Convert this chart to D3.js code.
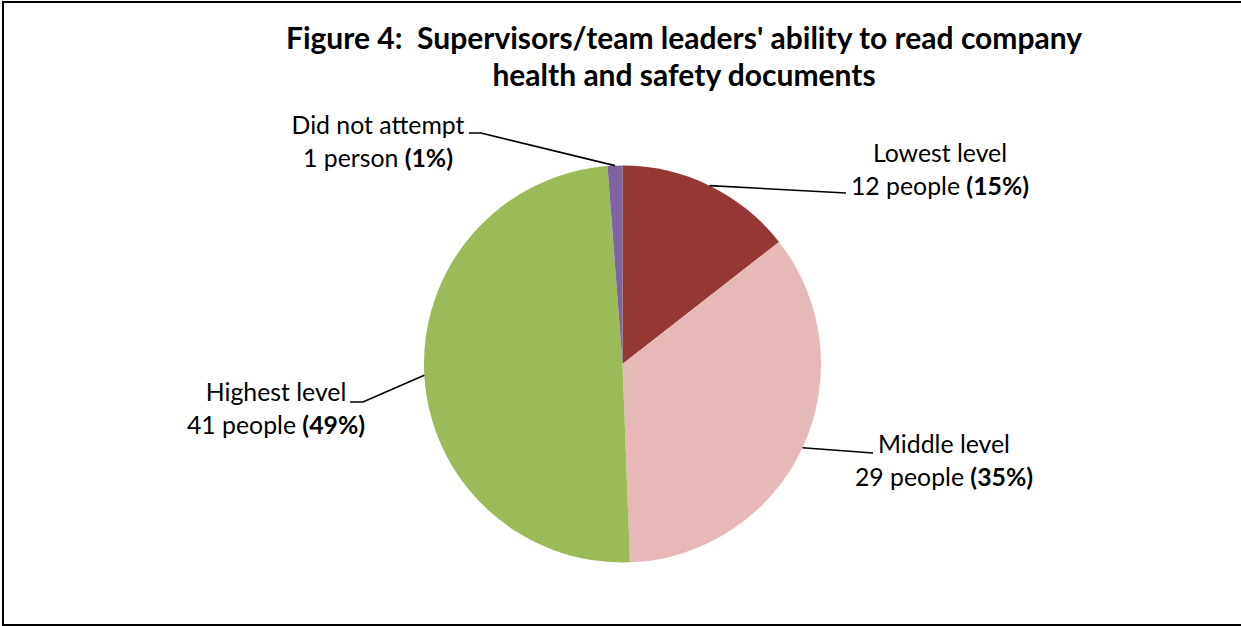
<!DOCTYPE html>
<html>
<head>
<meta charset="utf-8">
<script src="https://cdn.jsdelivr.net/npm/d3@7"></script>
<style>
  html, body { margin: 0; padding: 0; background: #fff; }
  svg { display: block; }
  text { font-family: Lato, "Open Sans", sans-serif; fill: #000; white-space: pre; }
</style>
</head>
<body>
<div id="chart"></div>
<script>
// Survey categories, clockwise from 12 o'clock
const categories = ["Lowest level", "Middle level", "Highest level", "Did not attempt"];
const counts = [12, 29, 41, 1];
const units = ["people", "people", "people", "person"];
const colors = ["#953735", "#E6B9B8", "#9BBB59", "#8064A2"];
const titleLines = [
  "Figure 4:  Supervisors/team leaders' ability to read company",
  "health and safety documents"
];

// Label block centres and the point where each leader line meets its label
const labelLayout = [
  { cx: 940, y: 162, lx: 846, ly: 193, elbow: null },
  { cx: 944, y: 453, lx: 873, ly: 453, elbow: null },
  { cx: 276, y: 401, lx: 350, ly: 402, elbow: 363 },
  { cx: 378, y: 134, lx: 469, ly: 133, elbow: 481 }
];

const W = 1241, H = 626;
const svg = d3.select("#chart").append("svg")
  .attr("width", W).attr("height", H);

// chart frame
svg.append("rect")
  .attr("x", 3).attr("y", 2)
  .attr("width", W + 10).attr("height", 623)
  .attr("fill", "none").attr("stroke", "#000").attr("stroke-width", 2);

// title
const title = svg.append("text")
  .attr("text-anchor", "middle")
  .attr("xml:space", "preserve")
  .style("font-weight", "bold")
  .style("font-size", "30px");
titleLines.forEach((t, i) => {
  title.append("tspan").attr("x", 684).attr("y", 49 + i * 37).text(t);
});

const cx = 622.5, cy = 364, r = 198.5;
const data = categories.map((c, i) => ({ name: c, value: counts[i], unit: units[i], color: colors[i], layout: labelLayout[i] }));

// whole-number shares that add up to 100 (largest remainder)
function shares(vals) {
  const tot = d3.sum(vals);
  const raw = vals.map(v => v / tot * 100);
  const out = raw.map(Math.floor);
  let left = 100 - d3.sum(out);
  d3.range(vals.length)
    .sort((a, b) => (raw[b] - out[b]) - (raw[a] - out[a]))
    .forEach(i => { if (left > 0) { out[i]++; left--; } });
  return out;
}
const pct = shares(counts);

const pie = d3.pie().value(d => d.value).sort(null).startAngle(0).endAngle(2 * Math.PI);
const arc = d3.arc().innerRadius(0).outerRadius(r);
const arcs = pie(data);

const g = svg.append("g").attr("transform", `translate(${cx},${cy})`);
g.selectAll("path.slice")
  .data(arcs)
  .join("path")
  .attr("class", "slice")
  .attr("d", arc)
  .attr("fill", d => d.data.color);

// leader lines from the rim at each slice's mid-angle
const line = d3.line();
svg.selectAll("path.leader")
  .data(arcs)
  .join("path")
  .attr("class", "leader")
  .attr("fill", "none")
  .attr("stroke", "#000")
  .attr("stroke-width", 1.6)
  .attr("d", d => {
    const a = (d.startAngle + d.endAngle) / 2;
    const px = cx + r * Math.sin(a), py = cy - r * Math.cos(a);
    const L = d.data.layout;
    const pts = [[L.lx, L.ly]];
    if (L.elbow !== null) pts.push([L.elbow, L.ly]);
    pts.push([px, py]);
    return line(pts);
  });

// labels
const labels = svg.selectAll("text.lbl")
  .data(arcs)
  .join("text")
  .attr("class", "lbl")
  .attr("text-anchor", "middle")
  .style("font-size", "24.8px");
labels.append("tspan")
  .attr("x", d => d.data.layout.cx)
  .attr("y", d => d.data.layout.y)
  .text(d => d.data.name);
const second = labels.append("tspan")
  .attr("x", d => d.data.layout.cx)
  .attr("y", d => d.data.layout.y + 32.5);
second.append("tspan").text(d => `${d.data.value} ${d.data.unit} `);
second.append("tspan").style("font-weight", "bold").text(d => `(${pct[d.index]}%)`);
</script>
</body>
</html>
